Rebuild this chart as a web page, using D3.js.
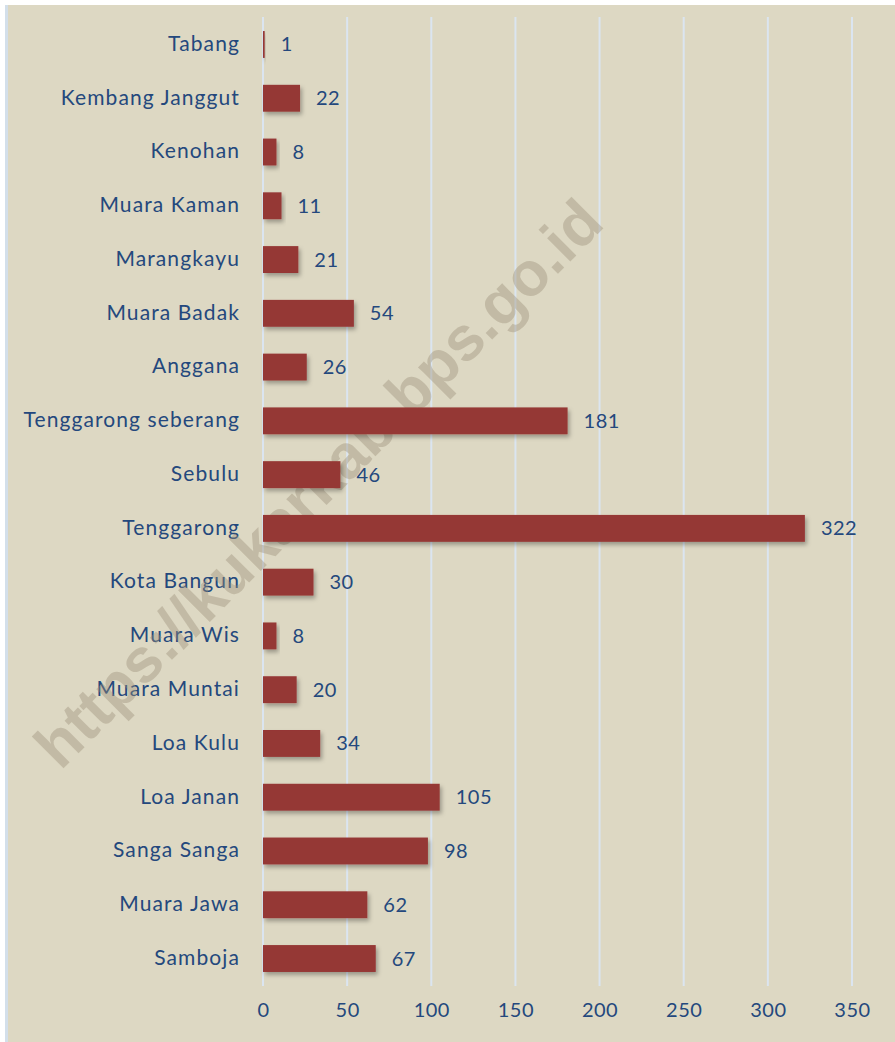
<!DOCTYPE html>
<html lang="id">
<head>
<meta charset="utf-8"/>
<script src="https://d3js.org/d3.v7.min.js"></script>
<style>
  body { margin: 0; background: #fff; }
  svg { display: block; }
</style>
</head>
<body>
<svg id="chart"></svg>
<script>
  const width = 895;
  const height = 1042;

  // kecamatan, urutan dari atas ke bawah
  const districts = ["Tabang", "Kembang Janggut", "Kenohan", "Muara Kaman", "Marangkayu",
    "Muara Badak", "Anggana", "Tenggarong seberang", "Sebulu", "Tenggarong",
    "Kota Bangun", "Muara Wis", "Muara Muntai", "Loa Kulu", "Loa Janan",
    "Sanga Sanga", "Muara Jawa", "Samboja"];
  const counts = [1, 22, 8, 11, 21, 54, 26, 181, 46, 322, 30, 8, 20, 34, 105, 98, 62, 67];
  const xTicks = [0, 50, 100, 150, 200, 250, 300, 350];
  const watermark = "https://kukarkab.bps.go.id";

  const data = districts.map((d, i) => ({ name: d, value: counts[i] }));

  const textColor = "#24487d";
  const font = "Lato, 'Open Sans', sans-serif";

  const svg = d3.select("#chart")
      .attr("width", width)
      .attr("height", height);

  // drop shadow for bars
  const defs = svg.append("defs");
  const f = defs.append("filter").attr("id", "shadow")
      .attr("x", "-10%").attr("y", "-20%").attr("width", "130%").attr("height", "160%");
  f.append("feDropShadow")
      .attr("dx", 2).attr("dy", 3).attr("stdDeviation", 2)
      .attr("flood-color", "#000").attr("flood-opacity", 0.3);

  // background panel
  svg.append("rect")
      .attr("x", 5).attr("y", 5)
      .attr("width", width - 5).attr("height", height - 5)
      .attr("fill", "#ddd8c3");
  svg.append("rect")
      .attr("x", 5).attr("y", 5)
      .attr("width", 3).attr("height", height - 5)
      .attr("fill", "#d3dfea");

  const x = d3.scaleLinear()
      .domain([0, 350])
      .range([263, 852]);

  const y = d3.scaleBand()
      .domain(districts)
      .range([17.6, 985.4])
      .paddingInner(0.5)
      .paddingOuter(0.25);

  // vertical gridlines
  svg.append("g")
      .selectAll("line")
      .data(xTicks)
      .join("line")
      .attr("x1", d => x(d)).attr("x2", d => x(d))
      .attr("y1", 17).attr("y2", 986)
      .attr("stroke", "#dbe5f0")
      .attr("stroke-width", 2);

  // x axis labels
  const xAxis = d3.axisBottom(x).tickValues(xTicks).tickSize(0).tickPadding(0);
  const xAxis_g = svg.append("g")
      .attr("transform", "translate(0,1003)")
      .call(xAxis);
  xAxis_g.select(".domain").remove();
  xAxis_g.selectAll("text")
      .attr("fill", textColor)
      .style("font-family", font)
      .style("font-size", "20px")
      .style("letter-spacing", "0.5px");

  // y axis labels
  const yAxis = d3.axisLeft(y).tickSize(0).tickPadding(0);
  const yAxis_g = svg.append("g")
      .attr("transform", "translate(240,0)")
      .call(yAxis);
  yAxis_g.select(".domain").remove();
  yAxis_g.selectAll("text")
      .attr("fill", textColor)
      .attr("dy", "0.3em")
      .style("font-family", font)
      .style("font-size", "21px")
      .style("letter-spacing", "1.1px");

  // watermark
  svg.append("text")
      .attr("transform", "translate(318,483) rotate(-45)")
      .attr("text-anchor", "middle")
      .attr("dy", "0.35em")
      .attr("fill", "#9a8f78")
      .attr("fill-opacity", 0.4)
      .style("font-family", "'Liberation Sans', Arial, sans-serif")
      .style("font-weight", "bold")
      .style("font-size", "62px")
      .text(watermark);

  // bars
  svg.append("g")
      .selectAll("rect")
      .data(data)
      .join("rect")
      .attr("x", x(0))
      .attr("y", d => y(d.name))
      .attr("width", d => Math.max(1.5, x(d.value) - x(0)))
      .attr("height", y.bandwidth())
      .attr("fill", "#953735")
      .attr("filter", "url(#shadow)");

  // value labels
  svg.append("g")
      .selectAll("text")
      .data(data)
      .join("text")
      .attr("x", d => x(d.value) + 16)
      .attr("y", d => y(d.name) + y.bandwidth() / 2)
      .attr("dy", "0.35em")
      .attr("fill", textColor)
      .style("font-family", font)
      .style("font-size", "20px")
      .style("letter-spacing", "0.5px")
      .text(d => d.value);
</script>
</body>
</html>
